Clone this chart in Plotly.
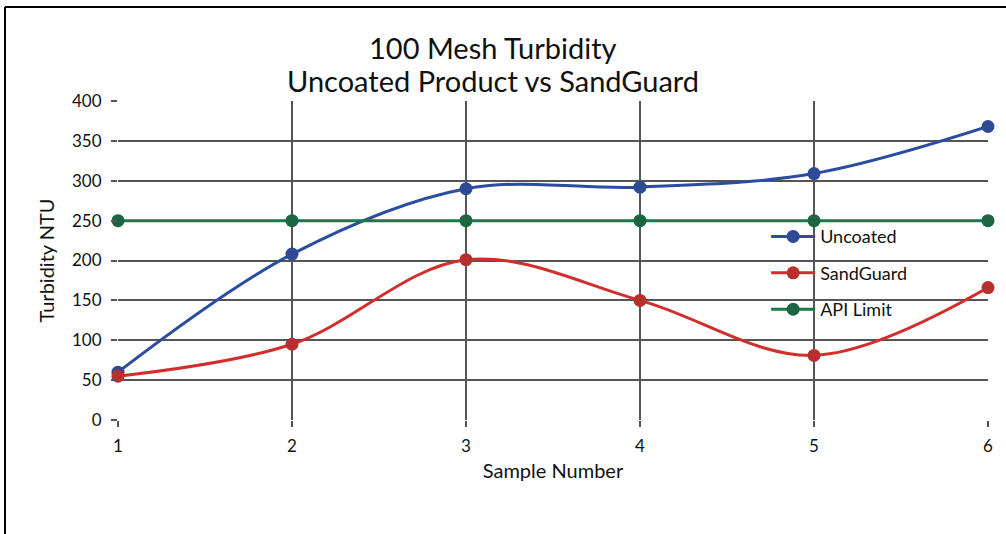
import plotly.graph_objects as go

samples = [1, 2, 3, 4, 5, 6]
uncoated = [60, 208, 290, 292, 309, 368]
sandguard = [55, 95, 201, 150, 81, 166]
api_limit = [250, 250, 250, 250, 250, 250]
title_lines = ["100 Mesh Turbidity", "Uncoated Product vs SandGuard"]

L, R, T, B = 118, 18, 101, 114
W, H = 1006, 534
pw, ph = W - L - R, H - T - B

font = "Lato, Open Sans, sans-serif"

fig = go.Figure()
series = [
    ("Uncoated", uncoated, "#2a4d9f", "#2d4a95"),
    ("SandGuard", sandguard, "#d22f2c", "#b8302e"),
    ("API Limit", api_limit, "#15794a", "#1b6540"),
]
for name, ys, lc, mc in series:
    fig.add_trace(go.Scatter(
        x=samples, y=ys, name=name, mode="lines+markers", legendgroup=name,
        line=dict(color=lc, width=3, shape="spline", smoothing=1.0),
        marker=dict(color=mc, size=13),
        cliponaxis=False,
    ))

fig.update_layout(
    width=W, height=H,
    margin=dict(l=L, r=R, t=T, b=B),
    paper_bgcolor="white", plot_bgcolor="white",
    font=dict(family=font, size=17, color="#111"),
    showlegend=True,
    legend=dict(x=0.745, y=0.46, xanchor="left", yanchor="middle",
                bgcolor="rgba(0,0,0,0)", font=dict(size=18, color="#111"),
                itemwidth=44, tracegroupgap=10),
    xaxis=dict(range=[1, 6], tickvals=samples, showgrid=True,
               gridcolor="#555", gridwidth=2, zeroline=False,
               ticks="outside", ticklen=6, tickcolor="#555", tickwidth=2,
               showline=False, tickfont=dict(size=17), ticklabelstandoff=5,
               title=dict(text="Sample Number", font=dict(size=20), standoff=8)),
    yaxis=dict(range=[0, 400], dtick=50, showgrid=True,
               gridcolor="#555", gridwidth=2, zeroline=False,
               ticks="outside", ticklen=6, tickcolor="#555", tickwidth=2,
               showline=False, tickfont=dict(size=17), ticklabelstandoff=6,
               title=dict(text="Turbidity NTU", font=dict(size=20), standoff=12)),
)

for i, (txt, ypix) in enumerate(zip(title_lines, [47, 80])):
    fig.add_annotation(
        text=txt, xref="paper", yref="paper",
        x=(493 - L) / pw, y=1 + (T - ypix) / ph,
        xanchor="center", yanchor="middle", showarrow=False,
        font=dict(size=29, family=font, color="#111"),
    )

fx = (5 - L) / pw
fy = 1 + (T - 7) / ph
fig.add_shape(type="line", xref="paper", yref="paper",
              x0=fx, x1=fx, y0=-1, y1=fy, line=dict(color="black", width=2))
fig.add_shape(type="line", xref="paper", yref="paper",
              x0=fx, x1=1.2, y0=fy, y1=fy, line=dict(color="black", width=2))

fig.write_html("out.html")
